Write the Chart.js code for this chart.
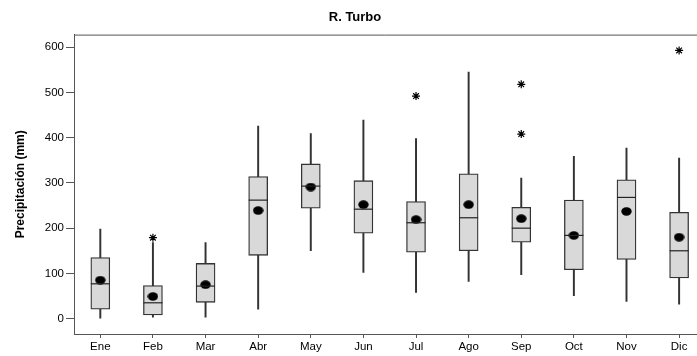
<!DOCTYPE html>
<html lang="es">
<head>
    <meta charset="UTF-8">
    <title>R. Turbo</title>
    <script src="https://cdn.jsdelivr.net/npm/chart.js"></script>
    <style>
        html, body { margin: 0; padding: 0; background: #fff; overflow: hidden; }
        #wrap { width: 697px; height: 356px; }
    </style>
</head>
<body>
    <div id="wrap"><canvas id="chart"></canvas></div>
    <script>
        // months and box plot values (mm)
        const months = ['Ene', 'Feb', 'Mar', 'Abr', 'May', 'Jun', 'Jul', 'Ago', 'Sep', 'Oct', 'Nov', 'Dic'];
        const whiskerLow = [0, 3, 3, 21, 150, 102, 58, 82, 97, 51, 38, 32];
        const q1 = [21, 8, 36, 140, 244, 189, 147, 150, 169, 108, 131, 90];
        const median = [77, 35, 72, 262, 293, 242, 212, 223, 200, 184, 268, 150];
        const q3 = [135, 73, 122, 314, 342, 305, 259, 320, 246, 262, 307, 235];
        const whiskerHigh = [198, 168, 168, 426, 409, 439, 398, 545, 311, 359, 377, 355];
        const means = [85, 49, 75, 239, 291, 252, 219, 252, 221, 184, 237, 180];
        // outliers as [month number, value]
        const outliers = [[2, 179], [7, 492], [9, 518], [9, 408], [12, 593]];
        const yTicks = [0, 100, 200, 300, 400, 500, 600];

        const axisColor = '#555';
        const font = { family: 'Liberation Sans, Arial, sans-serif', size: 11.5 };

        // mean marker: a slightly flat black dot
        const dot = document.createElement('canvas');
        dot.width = 11; dot.height = 9;
        const dctx = dot.getContext('2d');
        dctx.fillStyle = '#000';
        dctx.beginPath();
        dctx.ellipse(5.5, 4.5, 5.2, 4.2, 0, 0, Math.PI * 2);
        dctx.fill();

        // median lines and top frame line
        const boxExtras = {
            id: 'boxExtras',
            afterDatasetsDraw(chart) {
                const { ctx, scales: { x, y }, chartArea } = chart;
                ctx.save();
                ctx.strokeStyle = '#222';
                ctx.lineWidth = 1.2;
                median.forEach((m, i) => {
                    const cx = x.getPixelForValue(i + 1);
                    const py = y.getPixelForValue(m);
                    ctx.beginPath();
                    ctx.moveTo(cx - 9.5, py);
                    ctx.lineTo(cx + 9.5, py);
                    ctx.stroke();
                });
                ctx.strokeStyle = axisColor;
                ctx.lineWidth = 1;
                ctx.beginPath();
                ctx.moveTo(chartArea.left, chartArea.top + 0.5);
                ctx.lineTo(chartArea.right, chartArea.top + 0.5);
                ctx.stroke();
                ctx.restore();
            }
        };

        const idx = months.map((m, i) => i + 1);

        new Chart(document.getElementById('chart'), {
            type: 'bar',
            data: {
                datasets: [
                    {
                        label: 'whisker',
                        data: idx.map((v, i) => ({ x: v, y: [whiskerLow[i], whiskerHigh[i]] })),
                        backgroundColor: '#333',
                        barThickness: 1.3,
                        grouped: false,
                        order: 3
                    },
                    {
                        label: 'box',
                        data: idx.map((v, i) => ({ x: v, y: [q1[i], q3[i]] })),
                        backgroundColor: '#d9d9d9',
                        borderColor: '#333',
                        borderWidth: 1.3,
                        borderSkipped: false,
                        barThickness: 19,
                        grouped: false,
                        order: 2
                    },
                    {
                        type: 'scatter',
                        label: 'mean',
                        data: idx.map((v, i) => ({ x: v, y: means[i] })),
                        pointStyle: dot,
                        pointRadius: 5,
                        order: 1
                    },
                    {
                        type: 'scatter',
                        label: 'outlier',
                        data: outliers.map(o => ({ x: o[0], y: o[1] })),
                        pointStyle: 'star',
                        pointRadius: 4,
                        borderColor: '#000',
                        borderWidth: 1.2,
                        order: 0
                    }
                ]
            },
            options: {
                responsive: true,
                maintainAspectRatio: false,
                animation: false,
                layout: { autoPadding: false, padding: { left: 13, right: 0, top: 0, bottom: 0 } },
                plugins: {
                    legend: { display: false },
                    tooltip: { enabled: false },
                    title: {
                        display: true,
                        text: 'R. Turbo',
                        color: '#000',
                        font: { family: 'Liberation Sans, Arial, sans-serif', size: 13, weight: 'bold' },
                        padding: { top: 10, bottom: 9 }
                    }
                },
                scales: {
                    x: {
                        type: 'linear',
                        min: 0.5,
                        max: 12.34,
                        offset: false,
                        afterBuildTicks: s => { s.ticks = idx.map(v => ({ value: v })); },
                        afterFit: s => { s.height = 22; s.paddingRight = 0; },
                        grid: { offset: false, drawOnChartArea: false, tickLength: 4, color: axisColor },
                        border: { color: axisColor, width: 1 },
                        ticks: {
                            color: '#000',
                            font: font,
                            padding: 2,
                            maxRotation: 0,
                            autoSkip: false,
                            callback: v => months[v - 1]
                        }
                    },
                    y: {
                        min: -34,
                        max: 628,
                        afterBuildTicks: s => { s.ticks = yTicks.map(v => ({ value: v })); },
                        afterFit: s => { s.width = 61; },
                        grid: { drawOnChartArea: false, tickLength: 8, color: axisColor },
                        border: { color: axisColor, width: 1 },
                        ticks: { color: '#000', font: font, padding: 2 },
                        title: {
                            display: true,
                            text: 'Precipitación (mm)',
                            color: '#000',
                            font: { family: 'Liberation Sans, Arial, sans-serif', size: 12, weight: 'bold' },
                            padding: { top: 0, bottom: 0 }
                        }
                    }
                }
            },
            plugins: [boxExtras]
        });
    </script>
</body>
</html>
